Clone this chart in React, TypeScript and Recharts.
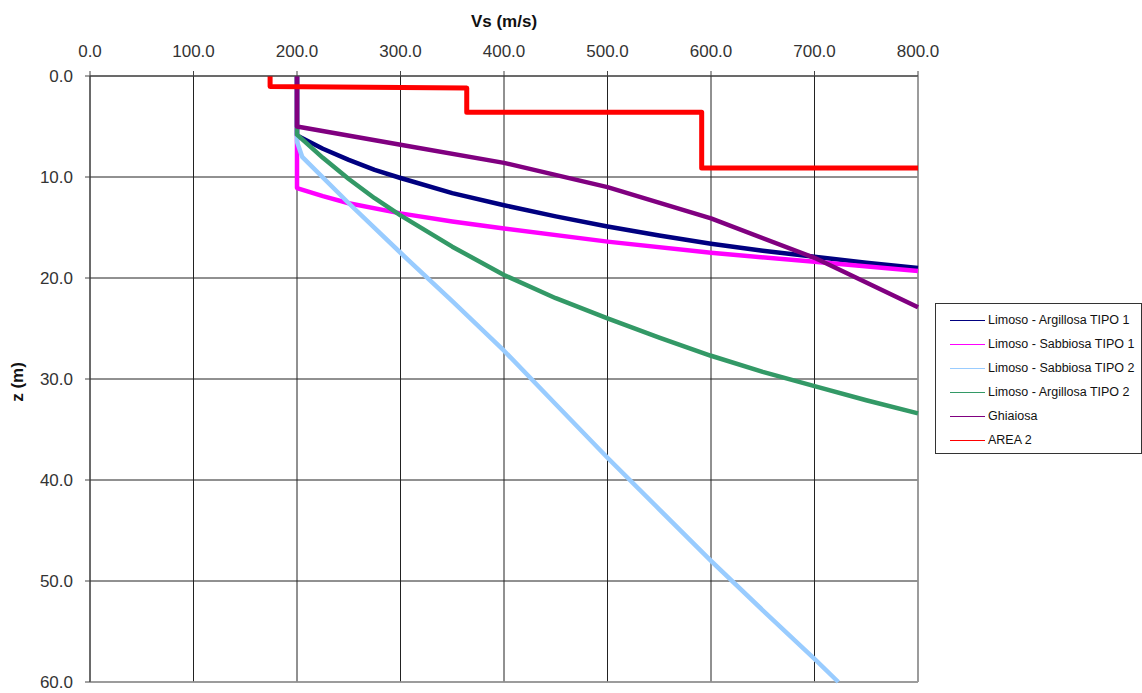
import { LineChart, Line, XAxis, YAxis, CartesianGrid, ReferenceLine } from "recharts"

// tick labels
const vsTicks = [0, 100, 200, 300, 400, 500, 600, 700, 800]
const zTicks = [0, 10, 20, 30, 40, 50, 60]

// Limoso - Argillosa TIPO 1
const vsArg1 = [200, 200, 225, 250, 275, 300, 350, 400, 450, 500, 550, 600, 650, 700, 750, 800]
const zArg1 = [0, 5.9, 7.2, 8.3, 9.3, 10.1, 11.6, 12.8, 13.9, 14.9, 15.8, 16.6, 17.3, 17.9, 18.5, 19.0]

// Limoso - Sabbiosa TIPO 1
const vsSab1 = [200, 200, 225, 250, 300, 350, 400, 500, 600, 700, 800]
const zSab1 = [0, 11.1, 11.9, 12.6, 13.6, 14.4, 15.1, 16.4, 17.5, 18.4, 19.3]

// Limoso - Sabbiosa TIPO 2
const vsSab2 = [200, 200, 205, 250, 300, 350, 400, 450, 500, 550, 600, 650, 700, 723]
const zSab2 = [0, 6.5, 8.0, 12.6, 17.5, 22.3, 27.2, 32.5, 37.8, 42.9, 48.0, 52.9, 57.7, 60]

// Limoso - Argillosa TIPO 2
const vsArg2 = [200, 200, 225, 250, 275, 300, 350, 400, 450, 500, 550, 600, 650, 700, 750, 800]
const zArg2 = [0, 5.8, 8.1, 10.2, 12.1, 13.8, 16.9, 19.7, 22.0, 24.0, 25.9, 27.7, 29.3, 30.7, 32.1, 33.4]

// Ghiaiosa
const vsGhi = [200, 200, 300, 400, 500, 600, 700, 800]
const zGhi = [0, 5.0, 6.8, 8.6, 11.0, 14.1, 18.0, 22.9]

// AREA 2
const vsArea2 = [174, 174, 364, 364, 591, 591, 800]
const zArea2 = [0, 1.05, 1.2, 3.6, 3.6, 9.1, 9.1]

const toPoints = (vs: number[], zs: number[]) => vs.map((v, i) => ({ v, z: zs[i] }))

const series = [
  { name: "Limoso - Argillosa TIPO 1", color: "#000080", data: toPoints(vsArg1, zArg1) },
  { name: "Limoso - Sabbiosa TIPO 1", color: "#FF00FF", data: toPoints(vsSab1, zSab1) },
  { name: "Limoso - Sabbiosa TIPO 2", color: "#99CCFF", data: toPoints(vsSab2, zSab2) },
  { name: "Limoso - Argillosa TIPO 2", color: "#339966", data: toPoints(vsArg2, zArg2) },
  { name: "Ghiaiosa", color: "#800080", data: toPoints(vsGhi, zGhi) },
  { name: "AREA 2", color: "#FF0000", data: toPoints(vsArea2, zArea2) },
]

const font = '"Liberation Sans", Arial, sans-serif'

export default function App() {
  return (
    <div style={{ position: "absolute", left: 0, top: 0, width: 1142, height: 693, background: "#fff", fontFamily: font }}>
      <LineChart width={1142} height={693} margin={{ top: 0, right: 224, bottom: 11, left: 0 }}>
        <CartesianGrid stroke="#222" strokeWidth={1} />
        <XAxis
          xAxisId={0}
          orientation="top"
          type="number"
          dataKey="v"
          domain={[0, 800]}
          ticks={vsTicks}
          height={76}
          tickSize={5}
          tickMargin={14}
          tickFormatter={(v) => v.toFixed(1)}
          tick={{ fontSize: 17, fill: "#333", fontFamily: font }}
          stroke="#444"
          label={{ value: "Vs (m/s)", position: "insideTop", offset: 15, fontSize: 17, fontWeight: "bold", fill: "#111", fontFamily: font }}
        />
        <YAxis
          yAxisId={0}
          type="number"
          dataKey="z"
          domain={[0, 60]}
          reversed
          ticks={zTicks}
          width={90}
          tickSize={5}
          tickMargin={12}
          tickFormatter={(v) => v.toFixed(1)}
          tick={{ fontSize: 17, fill: "#333", fontFamily: font }}
          stroke="#444"
          label={{
            content: (props: any) => {
              const vb = props.viewBox || {}
              const x = (vb.x || 0) + 17
              const y = (vb.y || 0) + (vb.height || 0) / 2 + 3
              return (
                <text x={x} y={y} transform={`rotate(-90 ${x} ${y})`} textAnchor="middle" dominantBaseline="central" fontSize={17} fontWeight="bold" fill="#111" fontFamily={font}>
                  z (m)
                </text>
              )
            },
          }}
        />
        <ReferenceLine x={800} stroke="#a0a0a0" strokeWidth={1.5} />
        <ReferenceLine y={60} stroke="#a0a0a0" strokeWidth={1.5} />
        {series.map((s) => (
          <Line
            key={s.name}
            data={s.data}
            dataKey="z"
            name={s.name}
            type="linear"
            stroke={s.color}
            strokeWidth={s.name === "AREA 2" ? 5 : 4.5}
            strokeLinejoin="round"
            dot={false}
            activeDot={false}
            isAnimationActive={false}
          />
        ))}
      </LineChart>
      <div
        style={{
          position: "absolute",
          left: 935,
          top: 303,
          width: 205,
          height: 145,
          border: "1px solid #333",
          background: "#fff",
          paddingTop: 4,
          boxSizing: "content-box",
        }}
      >
        {series.map((s) => (
          <div key={s.name} style={{ display: "flex", alignItems: "center", height: 24 }}>
            <div style={{ marginLeft: 14, width: 35, height: 1, background: s.color }} />
            <span style={{ marginLeft: 3, fontSize: 12.5, color: "#111", whiteSpace: "nowrap" }}>{s.name}</span>
          </div>
        ))}
      </div>
    </div>
  )
}
